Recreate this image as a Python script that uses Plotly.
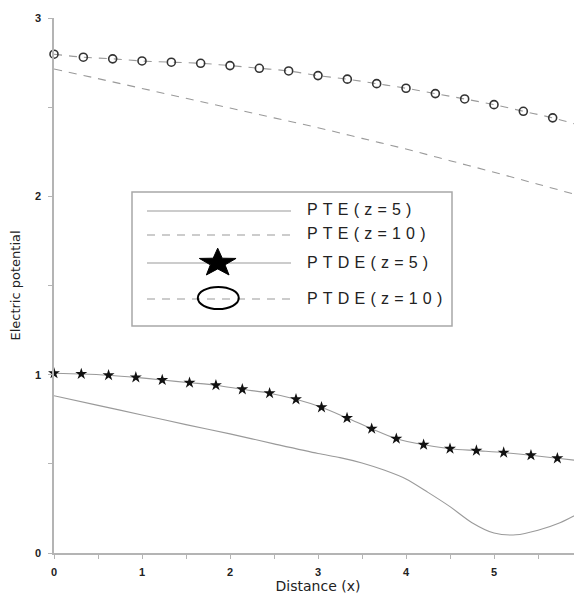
import math
import plotly.graph_objects as go

# ---------------- data ----------------
pte5_x = [0, 0.5, 1.0, 1.5, 2.0, 2.5, 3.0, 3.25, 3.5, 3.75, 4.0, 4.25, 4.5, 4.75, 5.0, 5.25,
          5.5, 5.75, 6.0]
pte5_y = [0.882, 0.828, 0.774, 0.72, 0.668, 0.612, 0.558, 0.535, 0.505, 0.465, 0.415, 0.34,
          0.26, 0.17, 0.112, 0.102, 0.128, 0.17, 0.232]

pte10_x = [0, 0.5, 1.0, 1.5, 2.0, 2.5, 3.0, 3.5, 4.0, 4.5, 5.0, 5.5, 6.0]
pte10_y = [2.714, 2.66, 2.605, 2.55, 2.495, 2.44, 2.385, 2.325, 2.265, 2.2, 2.135, 2.068, 2.0]

ptde5_x = [0, 0.31, 0.62, 0.93, 1.23, 1.54, 1.84, 2.14, 2.45, 2.75, 3.04, 3.33, 3.61, 3.89,
           4.20, 4.50, 4.80, 5.11, 5.42, 5.72]
ptde5_y = [1.008, 1.004, 0.997, 0.985, 0.970, 0.955, 0.941, 0.918, 0.896, 0.862, 0.817, 0.757,
           0.697, 0.641, 0.607, 0.585, 0.574, 0.563, 0.548, 0.531]
ptde5_end_x = [6.0]
ptde5_end_y = [0.516]

ptde10_x = [0, 1/3, 2/3, 1.0, 4/3, 5/3, 2.0, 7/3, 8/3, 3.0, 10/3, 11/3, 4.0, 13/3, 14/3, 5.0,
            16/3, 17/3, 6.0]
ptde10_y = [2.797, 2.78, 2.771, 2.759, 2.752, 2.746, 2.733, 2.718, 2.703, 2.677, 2.657, 2.632,
            2.606, 2.576, 2.546, 2.514, 2.477, 2.44, 2.395]

legend_labels = ["PTE(z=5)", "PTE(z=10)", "PTDE(z=5)", "PTDE(z=10)"]
x_ticks = [0, 1, 2, 3, 4, 5, 6]
y_ticks = [0, 1, 2, 3]

# ---------------- layout geometry ----------------
# the page body adds an 8px offset, so the figure is drawn 8px smaller and shifted
OFF = 8
WIN_W, WIN_H = 582, 596
W, H = WIN_W - OFF, WIN_H - OFF
# plot area in window (screenshot) pixels
L, R, T, B = 54, 582, 18, 553

LINE_GREY = "#9a9a9a"
AXIS_GREY = "#b4b4b4"

fig = go.Figure()

fig.add_trace(go.Scatter(x=pte5_x, y=pte5_y, mode="lines", name=legend_labels[0],
                         line=dict(color=LINE_GREY, width=1.1, shape="spline", smoothing=0.8),
                         showlegend=False))
fig.add_trace(go.Scatter(x=pte10_x, y=pte10_y, mode="lines", name=legend_labels[1],
                         line=dict(color=LINE_GREY, width=1.1, dash="8px,7px", shape="spline"),
                         showlegend=False))
fig.add_trace(go.Scatter(x=ptde5_x + ptde5_end_x, y=ptde5_y + ptde5_end_y, mode="lines",
                         name=legend_labels[2],
                         line=dict(color=LINE_GREY, width=1.1, shape="spline", smoothing=0.8),
                         showlegend=False))
fig.add_trace(go.Scatter(x=ptde5_x, y=ptde5_y, mode="markers", name=legend_labels[2],
                         marker=dict(symbol="star", size=9, color="#111111",
                                     line=dict(width=0)),
                         showlegend=False, cliponaxis=False))
fig.add_trace(go.Scatter(x=ptde10_x, y=ptde10_y, mode="lines+markers", name=legend_labels[3],
                         line=dict(color=LINE_GREY, width=1.1, dash="8px,7px", shape="spline"),
                         marker=dict(symbol="circle-open", size=8, color="#333333",
                                     line=dict(width=1.6, color="#333333")),
                         showlegend=False, cliponaxis=False))

# ---------------- manual legend (pixel helpers, window pixels -> paper) ----------------
def px(xp):
    return (xp - L) / (R - L)


def py(yp):
    return (B - yp) / (B - T)


shapes = []
annotations = []
shapes.append(dict(type="rect", xref="paper", yref="paper", x0=px(132), x1=px(452),
                   y0=py(326), y1=py(192), line=dict(color="#a8a8a8", width=1.5),
                   fillcolor="white", layer="above"))
rows_y = [211, 235, 263, 299]
dashes = ["solid", "8px,7px", "solid", "8px,7px"]
for ry, dsh in zip(rows_y, dashes):
    shapes.append(dict(type="line", xref="paper", yref="paper", x0=px(147), x1=px(291),
                       y0=py(ry), y1=py(ry), line=dict(color=LINE_GREY, width=1.1, dash=dsh)))

# star glyph in legend
cx, cy, rx, ry_ = 217.7, 263, 19.3, 14.8
pts = []
for i in range(10):
    ang = math.radians(90 + i * 36)
    rr = 1.0 if i % 2 == 0 else 0.40
    pts.append((rx * rr * math.cos(ang), ry_ * rr * math.sin(ang)))
path = "M" + " L".join(f"{x:.2f},{y:.2f}" for x, y in pts) + " Z"
shapes.append(dict(type="path", xref="paper", yref="paper", xsizemode="pixel",
                   ysizemode="pixel", xanchor=px(cx), yanchor=py(cy), path=path,
                   fillcolor="black", line=dict(color="black", width=1)))
# ellipse glyph in legend
shapes.append(dict(type="circle", xref="paper", yref="paper", xsizemode="pixel",
                   ysizemode="pixel", xanchor=px(218.3), yanchor=py(298),
                   x0=-20.5, x1=20.5, y0=-11, y1=11,
                   line=dict(color="black", width=2)))

for lab, ry in zip(legend_labels, rows_y):
    annotations.append(dict(xref="paper", yref="paper", x=px(305), y=py(ry - 1),
                            xanchor="left", yanchor="middle", showarrow=False,
                            text=f'<span style="letter-spacing:5.2px">{lab}</span>',
                            font=dict(family="Liberation Sans, Arial", size=16,
                                      color="#222222")))

fig.update_layout(
    width=W, height=H,
    template="none",
    paper_bgcolor="white", plot_bgcolor="white",
    margin=dict(l=L - OFF, r=0, t=T - OFF, b=WIN_H - B, pad=0),
    showlegend=False,
    shapes=shapes,
    annotations=annotations,
    font=dict(family="DejaVu Sans", color="#222222"),
)
fig.update_xaxes(
    range=[0, 6], tickmode="array", tickvals=x_ticks, ticktext=[str(t) for t in x_ticks],
    ticks="outside", ticklen=4, tickwidth=1.2, tickcolor=AXIS_GREY,
    minor=dict(dtick=0.5, ticks="outside", ticklen=4, tickwidth=1.2, tickcolor=AXIS_GREY),
    showline=True, linecolor=AXIS_GREY, linewidth=1.5, showgrid=False, zeroline=False,
    tickfont=dict(family="Liberation Sans, Arial", size=11, color="#222222", weight="bold"),
    ticklabelstandoff=4, ticklabeloverflow="allow", automargin=False,
    title=dict(text="Distance (x)", standoff=4,
               font=dict(family="DejaVu Sans", size=14, color="#222222")),
)
fig.update_yaxes(
    range=[0, 3], tickmode="array", tickvals=y_ticks, ticktext=[str(t) for t in y_ticks],
    ticks="outside", ticklen=4, tickwidth=1.2, tickcolor=AXIS_GREY,
    minor=dict(dtick=0.5, ticks="outside", ticklen=4, tickwidth=1.2, tickcolor=AXIS_GREY),
    showline=True, linecolor=AXIS_GREY, linewidth=1.5, showgrid=False, zeroline=False,
    tickfont=dict(family="Liberation Sans, Arial", size=11, color="#222222", weight="bold"),
    ticklabelstandoff=5, ticklabeloverflow="allow", automargin=False,
    title=dict(text="Electric potential", standoff=13,
               font=dict(family="DejaVu Sans", size=13, color="#222222")),
)

fig.write_html("out.html")
